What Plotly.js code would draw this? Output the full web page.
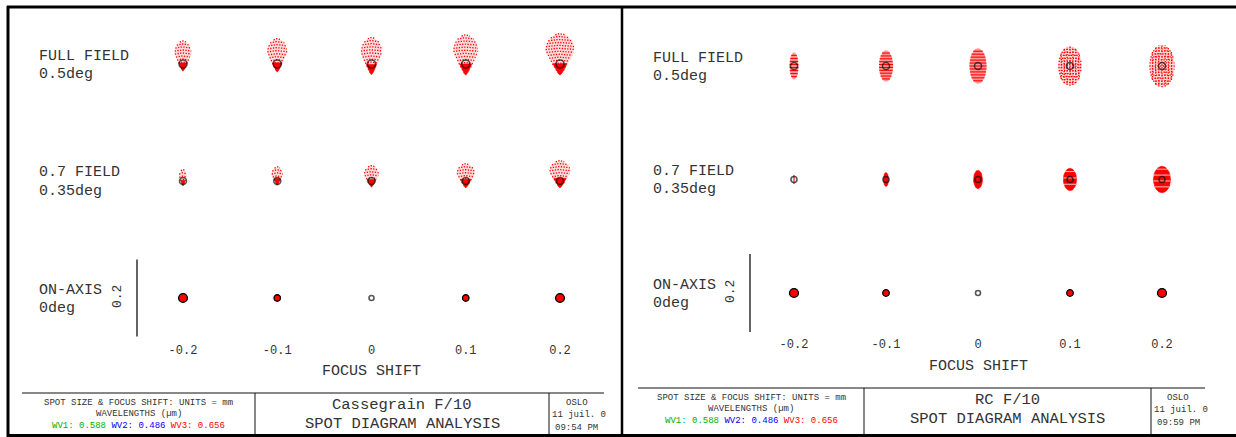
<!DOCTYPE html>
<html><head><meta charset="utf-8">
<script src="https://cdn.plot.ly/plotly-3.0.1.min.js"></script>
<style>html,body{margin:0;padding:0;background:#fff}#chart{width:1236px;height:437px}</style>
</head><body><div id="chart"></div>
<script>
// ================= DATA =================
const focusShift  = [-0.2, -0.1, 0, 0.1, 0.2];
const focusLabels = ['-0.2', '-0.1', '0', '0.1', '0.2'];
const fieldRows   = [0, 1, 2];
const fieldNames  = ['ON-AXIS', '0.7 FIELD', 'FULL FIELD'];
const fieldAngles = ['0deg', '0.35deg', '0.5deg'];
const scaleBarMm  = 0.2;
const scaleBarLabel = '0.2';

// Cassegrain F/10 : spot extents (mm) per focus shift
const casFullWidth = [0.044, 0.052, 0.055, 0.065, 0.075];
const casFullUp    = [0.059, 0.065, 0.068, 0.075, 0.078];
const casFullDown  = [0.019, 0.021, 0.028, 0.029, 0.029];
const casMidWidth  = [0.021, 0.029, 0.039, 0.047, 0.055];
const casMidUp     = [0.029, 0.036, 0.039, 0.044, 0.052];
const casMidDown   = [0.013, 0.011, 0.016, 0.018, 0.018];
const casAxisDiam  = [0.019, 0.013, 0.002, 0.013, 0.019];

// RC F/10 : spot extents (mm) per focus shift
const rcFullWidth  = [0.023, 0.036, 0.044, 0.060, 0.065];
const rcFullHeight = [0.070, 0.081, 0.091, 0.101, 0.109];
const rcMidWidth   = [0.003, 0.013, 0.023, 0.034, 0.044];
const rcMidHeight  = [0.023, 0.036, 0.047, 0.057, 0.068];
const rcAxisDiam   = [0.019, 0.013, 0.002, 0.013, 0.019];

// title-block texts
const unitsText = 'SPOT SIZE &amp; FOCUS SHIFT: UNITS = mm';
const wlHeader  = 'WAVELENGTHS (µm)';
const wlNames   = ['WV1', 'WV2', 'WV3'];
const wlValues  = ['0.588', '0.486', '0.656'];
const designNames = ['Cassegrain F/10', 'RC F/10'];
const analysisName = 'SPOT DIAGRAM ANALYSIS';
const programName = 'OSLO';
const runDate = '11 juil. 0';
const runTimes = ['09:54 PM', '09:59 PM'];

// ================= STYLE / LAYOUT =================
const W = 1236, H = 437;
const P = x => x / W, Q = y => 1 - y / H;
const wlColors = ['#00b000', '#0000ff', '#ff0000'];
const rcFullPattern = ['stripe', 'stripe', 'stripe', 'grid', 'grid'];
const rcMidPattern  = ['line', 'solid', 'solid', 'banded', 'banded'];
const FONT = 'Liberation Mono';
const TXT = '#333';

const panels = [
  {xa:'x',  ya:'y',  xaxis:'xaxis',  yaxis:'yaxis',  cx:371.5, ppf:942.5, axisY:341, row0:298, row2:64, ppm:385,
   labelX:37, barX:137, left:8, block:{top:393, x0:22, x1:604, d1:255, d2:549}, titleY:371},
  {xa:'x2', ya:'y2', xaxis:'xaxis2', yaxis:'yaxis2', cx:978,   ppf:920,   axisY:335, row0:293, row2:66, ppm:390,
   labelX:651, barX:750, left:622, block:{top:388, x0:638, x1:1205, d1:864, d2:1151}, titleY:366}
];
panels.forEach(p => { p.ppr = (p.row0 - p.row2) / 2; });

const traces = [];
const annotations = [];
const shapes = [];

function newBuckets(){ return {wash:{x:[],y:[]}, wash2:{x:[],y:[]}, dense:{x:[],y:[]}, dots:{x:[],y:[]},
  rows:{x:[],y:[]}, white:{x:[],y:[]}, ring:{x:[],y:[],s:[]}, disk:{x:[],y:[],s:[]}}; }
function push(b, xs, ys){ b.x.push(...xs, null); b.y.push(...ys, null); }

function buildPanel(p, kind){
  const B = newBuckets();
  const sx = mm => mm * p.ppm / p.ppf;      // mm -> focus-axis units
  const sy = mm => mm * p.ppm / p.ppr;      // mm -> row-axis units
  const pxY = px => px / p.ppr;

  function coma(xc, yc, w, up, down, denseFrac){
    const Hmm = up + down, yb = yc - sy(down), hwMax = w / 2, tm = 0.6;
    const hw = t => t < tm ? hwMax * Math.pow(t / tm, 0.75) : hwMax * Math.sqrt(Math.max(0, 1 - Math.pow((t - tm) / (1 - tm), 2)));
    const outline = (t0, t1, shrink) => {
      const R = [], L = [];
      for (let k = 0; k <= 30; k++){ const t = t0 + (t1 - t0) * k / 30; R.push([xc + sx(hw(t) * shrink), yb + sy(Hmm * t)]); L.push([xc - sx(hw(t) * shrink), yb + sy(Hmm * t)]); }
      const pts = R.concat(L.reverse());
      return [pts.map(q => q[0]), pts.map(q => q[1])];
    };
    let o = outline(0, 1, 1); push(B.wash, o[0], o[1]);
    o = outline(0, denseFrac, 0.85); push(B.dense, o[0], o[1]);
    const Hpx = Hmm * p.ppm, n = Math.max(2, Math.round(Hpx / 3));
    for (let i = 1; i <= n; i++){
      const t = (i - 0.3) / n, h = hw(t), yr = yb + sy(Hmm * t);
      if (h * p.ppm < 0.6) continue;
      const xs = [], ys = [];
      for (let j = 0; j <= 10; j++){ const u = -1 + 2 * j / 10; xs.push(xc + sx(h * u)); ys.push(yr + pxY(1.2 * (1 - u * u))); }
      push(B.dots, xs, ys);
    }
  }

  function ellipse(xc, yc, w, h, pattern){
    const a = w / 2, b = h / 2;
    const ex = [], ey = [];
    for (let k = 0; k <= 40; k++){ const th = 2 * Math.PI * k / 40; ex.push(xc + sx(a * Math.cos(th))); ey.push(yc + sy(b * Math.sin(th))); }
    if (pattern === 'line'){ push(B.rows, [xc, xc], [yc - sy(b), yc + sy(b)]); return; }
    if (pattern === 'solid' || pattern === 'banded'){ push(B.dense, ex, ey); }
    if (pattern === 'stripe'){ push(B.wash2, ex, ey); }
    if (pattern === 'grid'){ push(B.wash, ex, ey); }
    const hpx = h * p.ppm, n = Math.round(hpx / 3);
    for (let i = 1; i < n; i++){
      const v = -b + h * i / n, half = a * Math.sqrt(Math.max(0, 1 - (v / b) * (v / b)));
      const xs = [xc - sx(half), xc + sx(half)], ys = [yc + sy(v), yc + sy(v)];
      if (pattern === 'stripe') push(B.rows, xs, ys);
      if (pattern === 'banded' && i % 2 === 0) push(B.white, xs, ys);
      if (pattern === 'grid') push(B.dots, xs, ys);
    }
    if (pattern === 'grid'){
      const m = Math.round(w * p.ppm / 3);
      for (let i = 1; i < m; i++){
        const u = -a + w * i / m, half = b * Math.sqrt(Math.max(0, 1 - (u / a) * (u / a)));
        push(B.dots, [xc + sx(u), xc + sx(u)], [yc - sy(half), yc + sy(half)]);
      }
    }
  }

  focusShift.forEach((f, i) => {
    if (kind === 'cas'){
      coma(f, fieldRows[2], casFullWidth[i], casFullUp[i], casFullDown[i], 0.28);
      coma(f, fieldRows[1], casMidWidth[i], casMidUp[i], casMidDown[i], 0.36);
      B.ring.x.push(f, f); B.ring.y.push(fieldRows[2], fieldRows[1]); B.ring.s.push(8, 7);
    } else {
      ellipse(f, fieldRows[2], rcFullWidth[i], rcFullHeight[i], rcFullPattern[i]);
      ellipse(f, fieldRows[1], rcMidWidth[i], rcMidHeight[i], rcMidPattern[i]);
      B.ring.x.push(f, f); B.ring.y.push(fieldRows[2], fieldRows[1]); B.ring.s.push(7, 6);
    }
    const d = (kind === 'cas' ? casAxisDiam : rcAxisDiam)[i] * p.ppm;
    if (d < 3){ B.ring.x.push(f); B.ring.y.push(fieldRows[0]); B.ring.s.push(5); }
    else { B.disk.x.push(f); B.disk.y.push(fieldRows[0]); B.disk.s.push(d + 1.5); }
  });

  const base = {xaxis: p.xa, yaxis: p.ya, hoverinfo: 'skip', showlegend: false};
  traces.push(Object.assign({type:'scatter', mode:'lines', x:B.wash.x, y:B.wash.y, fill:'toself', fillcolor:'rgba(255,0,0,0.14)', line:{width:0}}, base));
  traces.push(Object.assign({type:'scatter', mode:'lines', x:B.wash2.x, y:B.wash2.y, fill:'toself', fillcolor:'rgba(255,0,0,0.40)', line:{width:0}}, base));
  traces.push(Object.assign({type:'scatter', mode:'lines', x:B.dense.x, y:B.dense.y, fill:'toself', fillcolor:'#ff0000', line:{width:0.6, color:'#ff0000'}}, base));
  traces.push(Object.assign({type:'scatter', mode:'lines', x:B.white.x, y:B.white.y, line:{width:0.9, color:'rgba(255,255,255,0.85)'}}, base));
  traces.push(Object.assign({type:'scatter', mode:'lines', x:B.rows.x, y:B.rows.y, line:{width:1.1, color:'#ff0000'}}, base));
  traces.push(Object.assign({type:'scatter', mode:'lines', x:B.dots.x, y:B.dots.y, line:{width:1.3, color:'#ff0000', dash:'1.3px,1.4px'}}, base));
  traces.push(Object.assign({type:'scatter', mode:'markers', x:B.disk.x, y:B.disk.y, marker:{symbol:'circle', size:B.disk.s, color:'#ff0000', opacity:1, line:{width:1.3, color:'#000'}}}, base));
  traces.push(Object.assign({type:'scatter', mode:'markers', x:B.ring.x, y:B.ring.y, marker:{symbol:'circle-open', size:B.ring.s, color:'#111', line:{width:1.6, color:'#111'}}}, base));
}
buildPanel(panels[0], 'cas');
buildPanel(panels[1], 'rc');

const layout = {
  width: W, height: H, margin: {l:0, r:0, t:0, b:0},
  paper_bgcolor: '#fff', plot_bgcolor: 'rgba(0,0,0,0)', showlegend: false,
  font: {family: FONT, color: TXT},
  annotations, shapes
};

panels.forEach((p, k) => {
  layout[p.xaxis] = {
    domain: [P(p.cx - 0.25 * p.ppf), P(p.cx + 0.25 * p.ppf)], range: [-0.25, 0.25], anchor: p.ya,
    tickvals: focusShift, ticktext: focusLabels, ticks: '', showgrid: false, zeroline: false, showline: false,
    tickfont: {family: FONT, size: 12, color: TXT}, fixedrange: true
  };
  layout[p.yaxis] = {
    domain: [Q(p.axisY), Q(20)], range: [-(p.axisY - p.row0) / p.ppr, 2 + (p.row2 - 20) / p.ppr],
    anchor: p.xa, visible: false, fixedrange: true
  };
  const rowPix = r => p.row0 - r * p.ppr;
  // field labels
  fieldRows.forEach((r, i) => {
    annotations.push({xref:'paper', yref:'paper', x:P(p.labelX), y:Q(rowPix(r) - 8), xanchor:'left', yanchor:'middle', showarrow:false, text:fieldNames[i], font:{size:15, color:TXT}});
    annotations.push({xref:'paper', yref:'paper', x:P(p.labelX), y:Q(rowPix(r) + 10), xanchor:'left', yanchor:'middle', showarrow:false, text:fieldAngles[i], font:{size:15, color:TXT}});
  });
  // scale bar
  const half = scaleBarMm * p.ppm / 2, yc = rowPix(fieldRows[0]);
  shapes.push({type:'line', xref:'paper', yref:'paper', x0:P(p.barX), x1:P(p.barX), y0:Q(yc - half), y1:Q(yc + half), line:{color:'#111', width:1.3}});
  annotations.push({xref:'paper', yref:'paper', x:P(p.barX - 20), y:Q(yc - 1), xanchor:'center', yanchor:'middle', showarrow:false, textangle:-90, text:scaleBarLabel, font:{size:13, color:TXT}});
  // axis title
  annotations.push({xref:p.xa, yref:'paper', x:0, y:Q(p.titleY), xanchor:'center', yanchor:'middle', showarrow:false, text:'FOCUS SHIFT', font:{size:15, color:TXT}});
  // title block
  const b = p.block;
  shapes.push({type:'line', xref:'paper', yref:'paper', x0:P(b.x0), x1:P(b.x1), y0:Q(b.top), y1:Q(b.top), line:{color:'#111', width:1}});
  shapes.push({type:'line', xref:'paper', yref:'paper', x0:P(b.d1), x1:P(b.d1), y0:Q(b.top), y1:Q(H), line:{color:'#111', width:1}});
  shapes.push({type:'line', xref:'paper', yref:'paper', x0:P(b.d2), x1:P(b.d2), y0:Q(b.top), y1:Q(H), line:{color:'#111', width:1}});
  const c1 = (b.x0 + b.d1) / 2, c2 = (b.d1 + b.d2) / 2, c3 = (b.d2 + b.x1) / 2;
  const sm = {size:9, color:TXT};
  annotations.push({xref:'paper', yref:'paper', x:P(c1), y:Q(b.top + 10), xanchor:'center', yanchor:'middle', showarrow:false, text:unitsText, font:sm});
  annotations.push({xref:'paper', yref:'paper', x:P(c1), y:Q(b.top + 21), xanchor:'center', yanchor:'middle', showarrow:false, text:wlHeader, font:sm});
  const wl = wlNames.map((n, i) => '<span style="color:' + wlColors[i] + '">' + n + ': ' + wlValues[i] + '</span>').join(' ');
  annotations.push({xref:'paper', yref:'paper', x:P(c1), y:Q(b.top + 33), xanchor:'center', yanchor:'middle', showarrow:false, text:wl, font:sm});
  annotations.push({xref:'paper', yref:'paper', x:P(c2), y:Q(b.top + 12), xanchor:'center', yanchor:'middle', showarrow:false, text:designNames[k], font:{size:15.5, color:TXT}});
  annotations.push({xref:'paper', yref:'paper', x:P(c2), y:Q(b.top + 31), xanchor:'center', yanchor:'middle', showarrow:false, text:analysisName, font:{size:15.5, color:TXT}});
  annotations.push({xref:'paper', yref:'paper', x:P(c3), y:Q(b.top + 10), xanchor:'center', yanchor:'middle', showarrow:false, text:programName, font:sm});
  annotations.push({xref:'paper', yref:'paper', x:P(b.d2 + 1), y:Q(b.top + 22), xanchor:'left', yanchor:'middle', showarrow:false, text:runDate, font:sm});
  annotations.push({xref:'paper', yref:'paper', x:P(c3), y:Q(b.top + 35), xanchor:'center', yanchor:'middle', showarrow:false, text:runTimes[k], font:sm});
});

// outer frame
shapes.push({type:'line', xref:'paper', yref:'paper', x0:P(7), x1:1, y0:Q(7), y1:Q(7), line:{color:'#000', width:3}});
shapes.push({type:'line', xref:'paper', yref:'paper', x0:P(8), x1:P(8), y0:Q(6), y1:0, line:{color:'#000', width:3}});
shapes.push({type:'line', xref:'paper', yref:'paper', x0:P(622), x1:P(622), y0:Q(6), y1:0, line:{color:'#000', width:2.5}});
shapes.push({type:'line', xref:'paper', yref:'paper', x0:P(7), x1:1, y0:Q(435.5), y1:Q(435.5), line:{color:'#000', width:3}});

Plotly.newPlot('chart', traces, layout, {staticPlot: true, displayModeBar: false});
</script></body></html>
